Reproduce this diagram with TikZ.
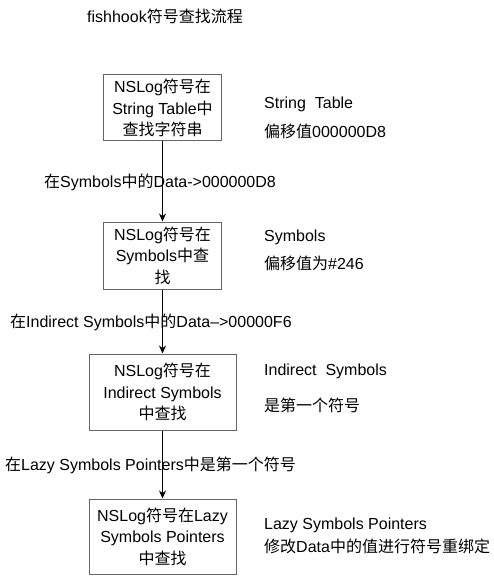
\documentclass[tikz,border=0pt]{standalone}
\usepackage{fontspec}
\setmainfont{Liberation Sans}
\newfontfamily\cjk{Noto Sans CJK SC}
\newcommand{\zh}[1]{{\cjk #1}}
\usetikzlibrary{arrows.meta}
\tikzset{
  txt/.style={font=\fontsize{16}{21.5}\selectfont, inner sep=0pt},
  box/.style={txt, draw=black!60, line width=1pt, align=center, fill=white},
  lbl/.style={txt, anchor=base west},
  arr/.style={draw=black, line width=1pt, -{Stealth[length=8pt,width=7pt]}}
}
\begin{document}
\begin{tikzpicture}[x=1pt,y=-1pt]
\useasboundingbox (0,0) rectangle (493,577);
\node[lbl] (title) at (87,23) {fishhook\zh{符号查找流程}};

\node[box, minimum width=118pt, minimum height=66pt] (b1) at (162.5,108)
  {NSLog\zh{符号在}\\String Table\zh{中}\\\zh{查找字符串}};
\node[box, minimum width=118pt, minimum height=67pt] (b2) at (162.5,255.5)
  {NSLog\zh{符号在}\\Symbols\zh{中查}\\\zh{找}};
\node[box, minimum width=147pt, minimum height=76pt] (b3) at (162.5,392)
  {NSLog\zh{符号在}\\Indirect Symbols\\\zh{中查找}};
\node[box, minimum width=147pt, minimum height=75pt] (b4) at (162.5,536.5)
  {NSLog\zh{符号在}Lazy\\Symbols Pointers\\\zh{中查找}};

\draw[arr] (b1) -- (b2);
\draw[arr] (b2) -- (b3);
\draw[arr] (b3) -- (b4);

\node[lbl] (l1) at (44,187) {\zh{在}Symbols\zh{中的}Data->000000D8};
\node[lbl] (l2) at (10,327) {\zh{在}Indirect Symbols\zh{中的}Data--{}>00000F6};
\node[lbl] (l3) at (5,470) {\zh{在}Lazy Symbols Pointers\zh{中是第一个符号}};

\node[lbl] (r1a) at (264,109) {String~ Table};
\node[lbl] (r1b) at (264,138) {\zh{偏移值}000000D8};
\node[lbl] (r2a) at (264,241) {Symbols};
\node[lbl] (r2b) at (264,269) {\zh{偏移值为}\#246};
\node[lbl] (r3a) at (264,375) {Indirect~ Symbols};
\node[lbl] (r3b) at (264,411) {\zh{是第一个符号}};
\node[lbl] (r4a) at (264,529) {Lazy Symbols Pointers};
\node[lbl] (r4b) at (264,552) {\zh{修改}Data\zh{中的值进行符号重绑定}};
\end{tikzpicture}
\end{document}
